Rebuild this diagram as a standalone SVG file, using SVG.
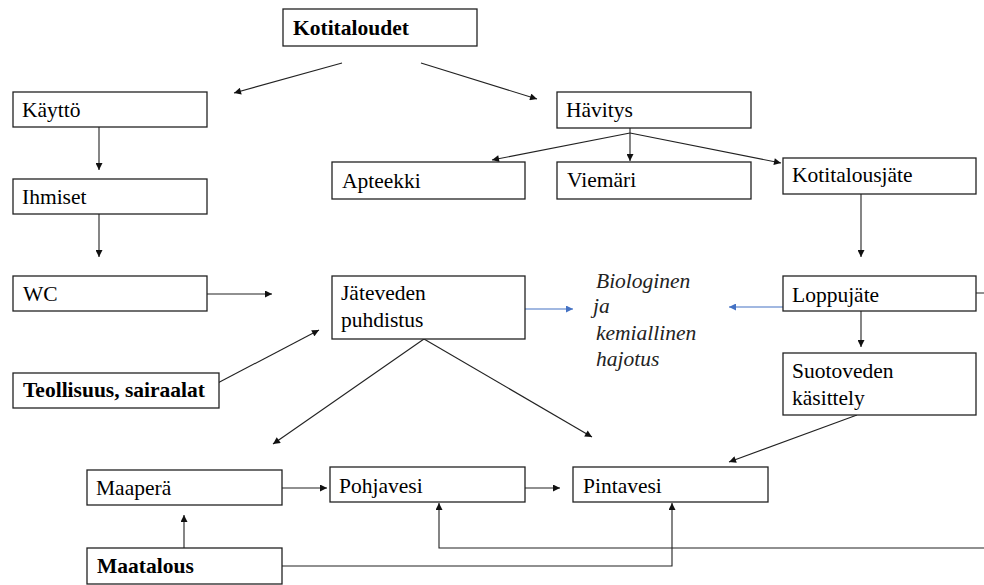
<svg xmlns="http://www.w3.org/2000/svg" width="984" height="585" viewBox="0 0 984 585">
<style>
.box{fill:#fff;stroke:#222;stroke-width:1.3}
.t{font-family:"Liberation Serif","Times New Roman",serif;font-size:21.5px;fill:#000}
.b{font-weight:bold}
.i{font-style:italic;fill:#222}
.c{fill:none;stroke:#222;stroke-width:1.1}
.blue{fill:none;stroke:#4472C4;stroke-width:1.1}
</style>
<defs>
<marker id="ah" viewBox="0 0 10 10" refX="10" refY="5" markerWidth="8" markerHeight="7" markerUnits="userSpaceOnUse" orient="auto"><path d="M0,0 L10,5 L0,10 z" fill="#111"/></marker>
<marker id="ahb" viewBox="0 0 10 10" refX="10" refY="5" markerWidth="8" markerHeight="7" markerUnits="userSpaceOnUse" orient="auto"><path d="M0,0 L10,5 L0,10 z" fill="#4472C4"/></marker>
</defs>
<rect width="984" height="585" fill="#fff"/>
<g id="connectors">
<line class="c" x1="342" y1="63" x2="234" y2="93" marker-end="url(#ah)"/>
<line class="c" x1="421" y1="63" x2="537" y2="99" marker-end="url(#ah)"/>
<line class="c" x1="99" y1="127" x2="99" y2="170" marker-end="url(#ah)"/>
<line class="c" x1="99" y1="214" x2="99" y2="257" marker-end="url(#ah)"/>
<line class="c" x1="207" y1="294" x2="272" y2="294" marker-end="url(#ah)"/>
<line class="c" x1="630" y1="128" x2="630" y2="161" marker-end="url(#ah)"/>
<line class="c" x1="630" y1="133" x2="492" y2="160" marker-end="url(#ah)"/>
<line class="c" x1="630" y1="133" x2="781" y2="163" marker-end="url(#ah)"/>
<line class="c" x1="861" y1="194" x2="861" y2="257" marker-end="url(#ah)"/>
<line class="blue" x1="525" y1="309" x2="573" y2="309" marker-end="url(#ahb)"/>
<line class="blue" x1="783" y1="307" x2="729" y2="307" marker-end="url(#ahb)"/>
<line class="c" x1="861" y1="311" x2="861" y2="347" marker-end="url(#ah)"/>
<line class="c" x1="212" y1="386" x2="319" y2="330" marker-end="url(#ah)"/>
<line class="c" x1="424" y1="339" x2="273" y2="444" marker-end="url(#ah)"/>
<line class="c" x1="424" y1="339" x2="592" y2="437" marker-end="url(#ah)"/>
<line class="c" x1="857" y1="415" x2="729" y2="462" marker-end="url(#ah)"/>
<line class="c" x1="282" y1="488" x2="327" y2="488" marker-end="url(#ah)"/>
<line class="c" x1="525" y1="488" x2="560" y2="488" marker-end="url(#ah)"/>
<line class="c" x1="184" y1="548" x2="184" y2="515" marker-end="url(#ah)"/>
<path class="c" d="M282,566 H672 V503" marker-end="url(#ah)"/>
<path class="c" d="M976,293 H995 V548 H439 V503" marker-end="url(#ah)"/>
</g>
<g id="kotitaloudet"><rect class="box" x="283" y="9" width="194" height="37"/><text class="t b" x="293" y="35">Kotitaloudet</text></g>
<g id="kaytto"><rect class="box" x="13" y="92" width="194" height="35"/><text class="t" x="22" y="117">Käyttö</text></g>
<g id="havitys"><rect class="box" x="557" y="92" width="194" height="36"/><text class="t" x="566" y="117">Hävitys</text></g>
<g id="apteekki"><rect class="box" x="332" y="162" width="193" height="37"/><text class="t" x="342" y="188">Apteekki</text></g>
<g id="viemari"><rect class="box" x="557" y="162" width="194" height="37"/><text class="t" x="567" y="187">Viemäri</text></g>
<g id="kotitalousjate"><rect class="box" x="783" y="158" width="193" height="36"/><text class="t" x="792" y="182">Kotitalousjäte</text></g>
<g id="ihmiset"><rect class="box" x="13" y="179" width="194" height="35"/><text class="t" x="22" y="204">Ihmiset</text></g>
<g id="wc"><rect class="box" x="13" y="276" width="194" height="35"/><text class="t" x="23" y="301">WC</text></g>
<g id="jateveden"><rect class="box" x="332" y="276" width="193" height="63"/><text class="t" x="341" y="300">Jäteveden</text><text class="t" x="341" y="327">puhdistus</text></g>
<g id="hajotus"><text class="t i" x="596" y="288">Biologinen</text><text class="t i" x="593" y="313">ja</text><text class="t i" x="596" y="340">kemiallinen</text><text class="t i" x="596" y="366">hajotus</text></g>
<g id="loppujate"><rect class="box" x="783" y="276" width="193" height="35"/><text class="t" x="792" y="302">Loppujäte</text></g>
<g id="suotoveden"><rect class="box" x="783" y="353" width="193" height="62"/><text class="t" x="792" y="378">Suotoveden</text><text class="t" x="792" y="405">käsittely</text></g>
<g id="teollisuus"><rect class="box" x="13" y="373" width="206" height="35"/><text class="t b" x="23" y="397">Teollisuus, sairaalat</text></g>
<g id="maapera"><rect class="box" x="87" y="470" width="195" height="35"/><text class="t" x="96" y="495">Maaperä</text></g>
<g id="pohjavesi"><rect class="box" x="330" y="467" width="195" height="35"/><text class="t" x="339" y="493">Pohjavesi</text></g>
<g id="pintavesi"><rect class="box" x="573" y="467" width="195" height="35"/><text class="t" x="583" y="493">Pintavesi</text></g>
<g id="maatalous"><rect class="box" x="87" y="548" width="195" height="36"/><text class="t b" x="97" y="573">Maatalous</text></g>
</svg>
